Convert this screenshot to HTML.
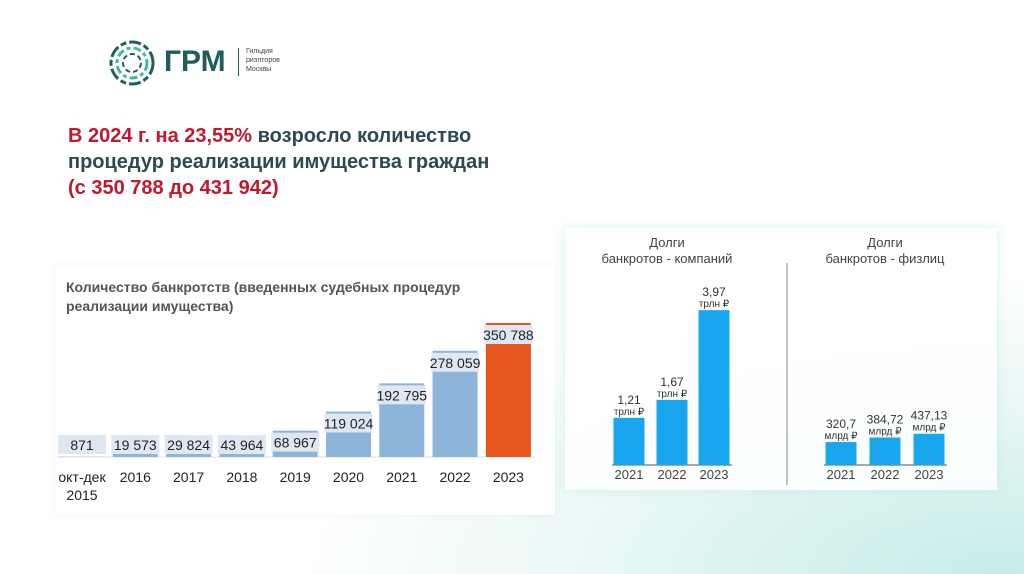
<!DOCTYPE html>
<html><head><meta charset="utf-8"><style>
body{margin:0;width:1024px;height:574px;overflow:hidden;font-family:"Liberation Sans",sans-serif;
background:radial-gradient(ellipse 700px 300px at 1000px 574px,#c6ece8 0%,#e4f6f4 50%,#fff 100%);position:relative}
.t{position:absolute;white-space:nowrap}
</style></head><body>
<div style="position:absolute;left:565px;top:228px;width:432px;height:262px;background:rgba(255,255,255,0.85);box-shadow:0 0 10px rgba(200,235,232,0.8)"></div>
<svg width="50" height="50" style="position:absolute;left:107px;top:38px" viewBox="0 0 50 50">
<circle cx="25" cy="25" r="21" fill="none" stroke="#1f5e5e" stroke-width="3" stroke-dasharray="12 3 6 3"/>
<circle cx="25" cy="25" r="15" fill="none" stroke="#3bbf9f" stroke-width="3" stroke-dasharray="8 3 4 3"/>
<circle cx="25" cy="25" r="9" fill="none" stroke="#1f5e5e" stroke-width="2" stroke-dasharray="5 3"/>
</svg>
<div class="t" style="left:164px;top:45px;font-size:30px;font-weight:bold;color:#1f5e5e">ГРМ</div>
<div style="position:absolute;left:238px;top:48px;width:1px;height:28px;background:#1f5e5e"></div>
<div class="t" style="left:246px;top:47px;font-size:7px;line-height:9px;color:#444">Гильдия<br>риэлторов<br>Москвы</div>
<div class="t" style="left:68px;top:123px;font-size:20px;line-height:26px;font-weight:bold;color:#2c4a52">
<span style="color:#c0192c">В 2024 г. на 23,55%</span> возросло количество<br>процедур реализации имущества граждан<br><span style="color:#c0192c">(с 350 788 до 431 942)</span></div>

<div style="position:absolute;left:55px;top:265px;width:500px;height:250px;background:#fff;box-shadow:0 0 6px rgba(0,0,0,0.05)"></div>
<div class="t" style="left:66px;top:278px;font-size:14px;line-height:19px;font-weight:bold;color:#555">Количество банкротств (введенных судебных процедур<br>реализации имущества)</div>
<svg id="c1" width="1024" height="574" style="position:absolute;left:0;top:0"></svg>
<svg id="c2" width="1024" height="574" style="position:absolute;left:0;top:0"></svg>
<script>
const cats1=["окт-дек|2015","2016","2017","2018","2019","2020","2021","2022","2023"];
const vals1=[871,19573,29824,43964,68967,119024,192795,278059,350788];
const labels1=["871","19 573","29 824","43 964","68 967","119 024","192 795","278 059","350 788"];
const cats2=["2021","2022","2023"];
const valsCo=[1.21,1.67,3.97];
const labelsCo=["1,21","1,67","3,97"];
const valsPe=[320.7,384.72,437.13];
const labelsPe=["320,7","384,72","437,13"];
const NS="http://www.w3.org/2000/svg";
function mk(svg,tag,a,txt){const e=document.createElementNS(NS,tag);for(const k in a)e.setAttribute(k,a[k]);if(txt!==undefined)e.textContent=txt;svg.appendChild(e);return e;}
const c1=document.getElementById('c1');
const base1=457, x1=i=>82+i*53.3, y1=v=>base1-v*134/350788;
let e=mk(c1,'line',{x1:57,x2:535,y1:base1,y2:base1,stroke:'#ddd','stroke-width':1});


vals1.forEach((v,i)=>{
 const cx=x1(i),top=y1(v);
 let b=mk(c1,'rect',{x:cx-22.5,y:top,width:45,height:base1-top,fill:i==8?'#e8561f':'#8db4d9'});
 
 
 const ly=Math.min(top+12,445);
 let bx=mk(c1,'rect',{x:cx-24,y:ly-10,width:48,height:19,fill:'#dfe7f3'});
 
 
 let t=mk(c1,'text',{x:cx,y:ly+5,'text-anchor':'middle','font-size':14,fill:'#222','font-family':'Liberation Sans'},labels1[i]);
 
 
 cats1[i].split('|').forEach((s,j)=>{
  let c=mk(c1,'text',{x:cx,y:482+j*18,'text-anchor':'middle','font-size':14,fill:'#222','font-family':'Liberation Sans'},s);
  
  
 });
});
const c2=document.getElementById('c2');
function panel(x0,xs,vals,labs,unit,scale,title){
 const base=465;
 mk(c2,'text',{x:x0,y:247,'text-anchor':'middle','font-size':13,fill:'#444'},'Долги');
 let tt=mk(c2,'text',{x:x0,y:263,'text-anchor':'middle','font-size':13,fill:'#444'},title);
 
 
 mk(c2,'line',{x1:xs[0]-17,x2:xs[2]+18,y1:base,y2:base,stroke:'#555','stroke-width':1});
 vals.forEach((v,i)=>{
  const top=base-v*scale,cx=xs[i];
  let b=mk(c2,'rect',{x:cx-15.5,y:top,width:31,height:base-top,fill:'#18a6ee'});
  
  
  mk(c2,'text',{x:cx,y:top-14,'text-anchor':'middle','font-size':12,fill:'#333'},labs[i]);
  mk(c2,'text',{x:cx,y:top-3,'text-anchor':'middle','font-size':10,fill:'#333'},unit);
  mk(c2,'text',{x:cx,y:479,'text-anchor':'middle','font-size':13,fill:'#444'},cats2[i]);
 });
}
panel(667,[629,672,714],valsCo,labelsCo,'трлн ₽',39,'банкротов - компаний');
panel(885,[841,885,929],valsPe,labelsPe,'млрд ₽',0.0715,'банкротов - физлиц');
let d=mk(c2,'line',{x1:787,x2:787,y1:263,y2:485,stroke:'#888','stroke-width':1});


</script>
</body></html>
